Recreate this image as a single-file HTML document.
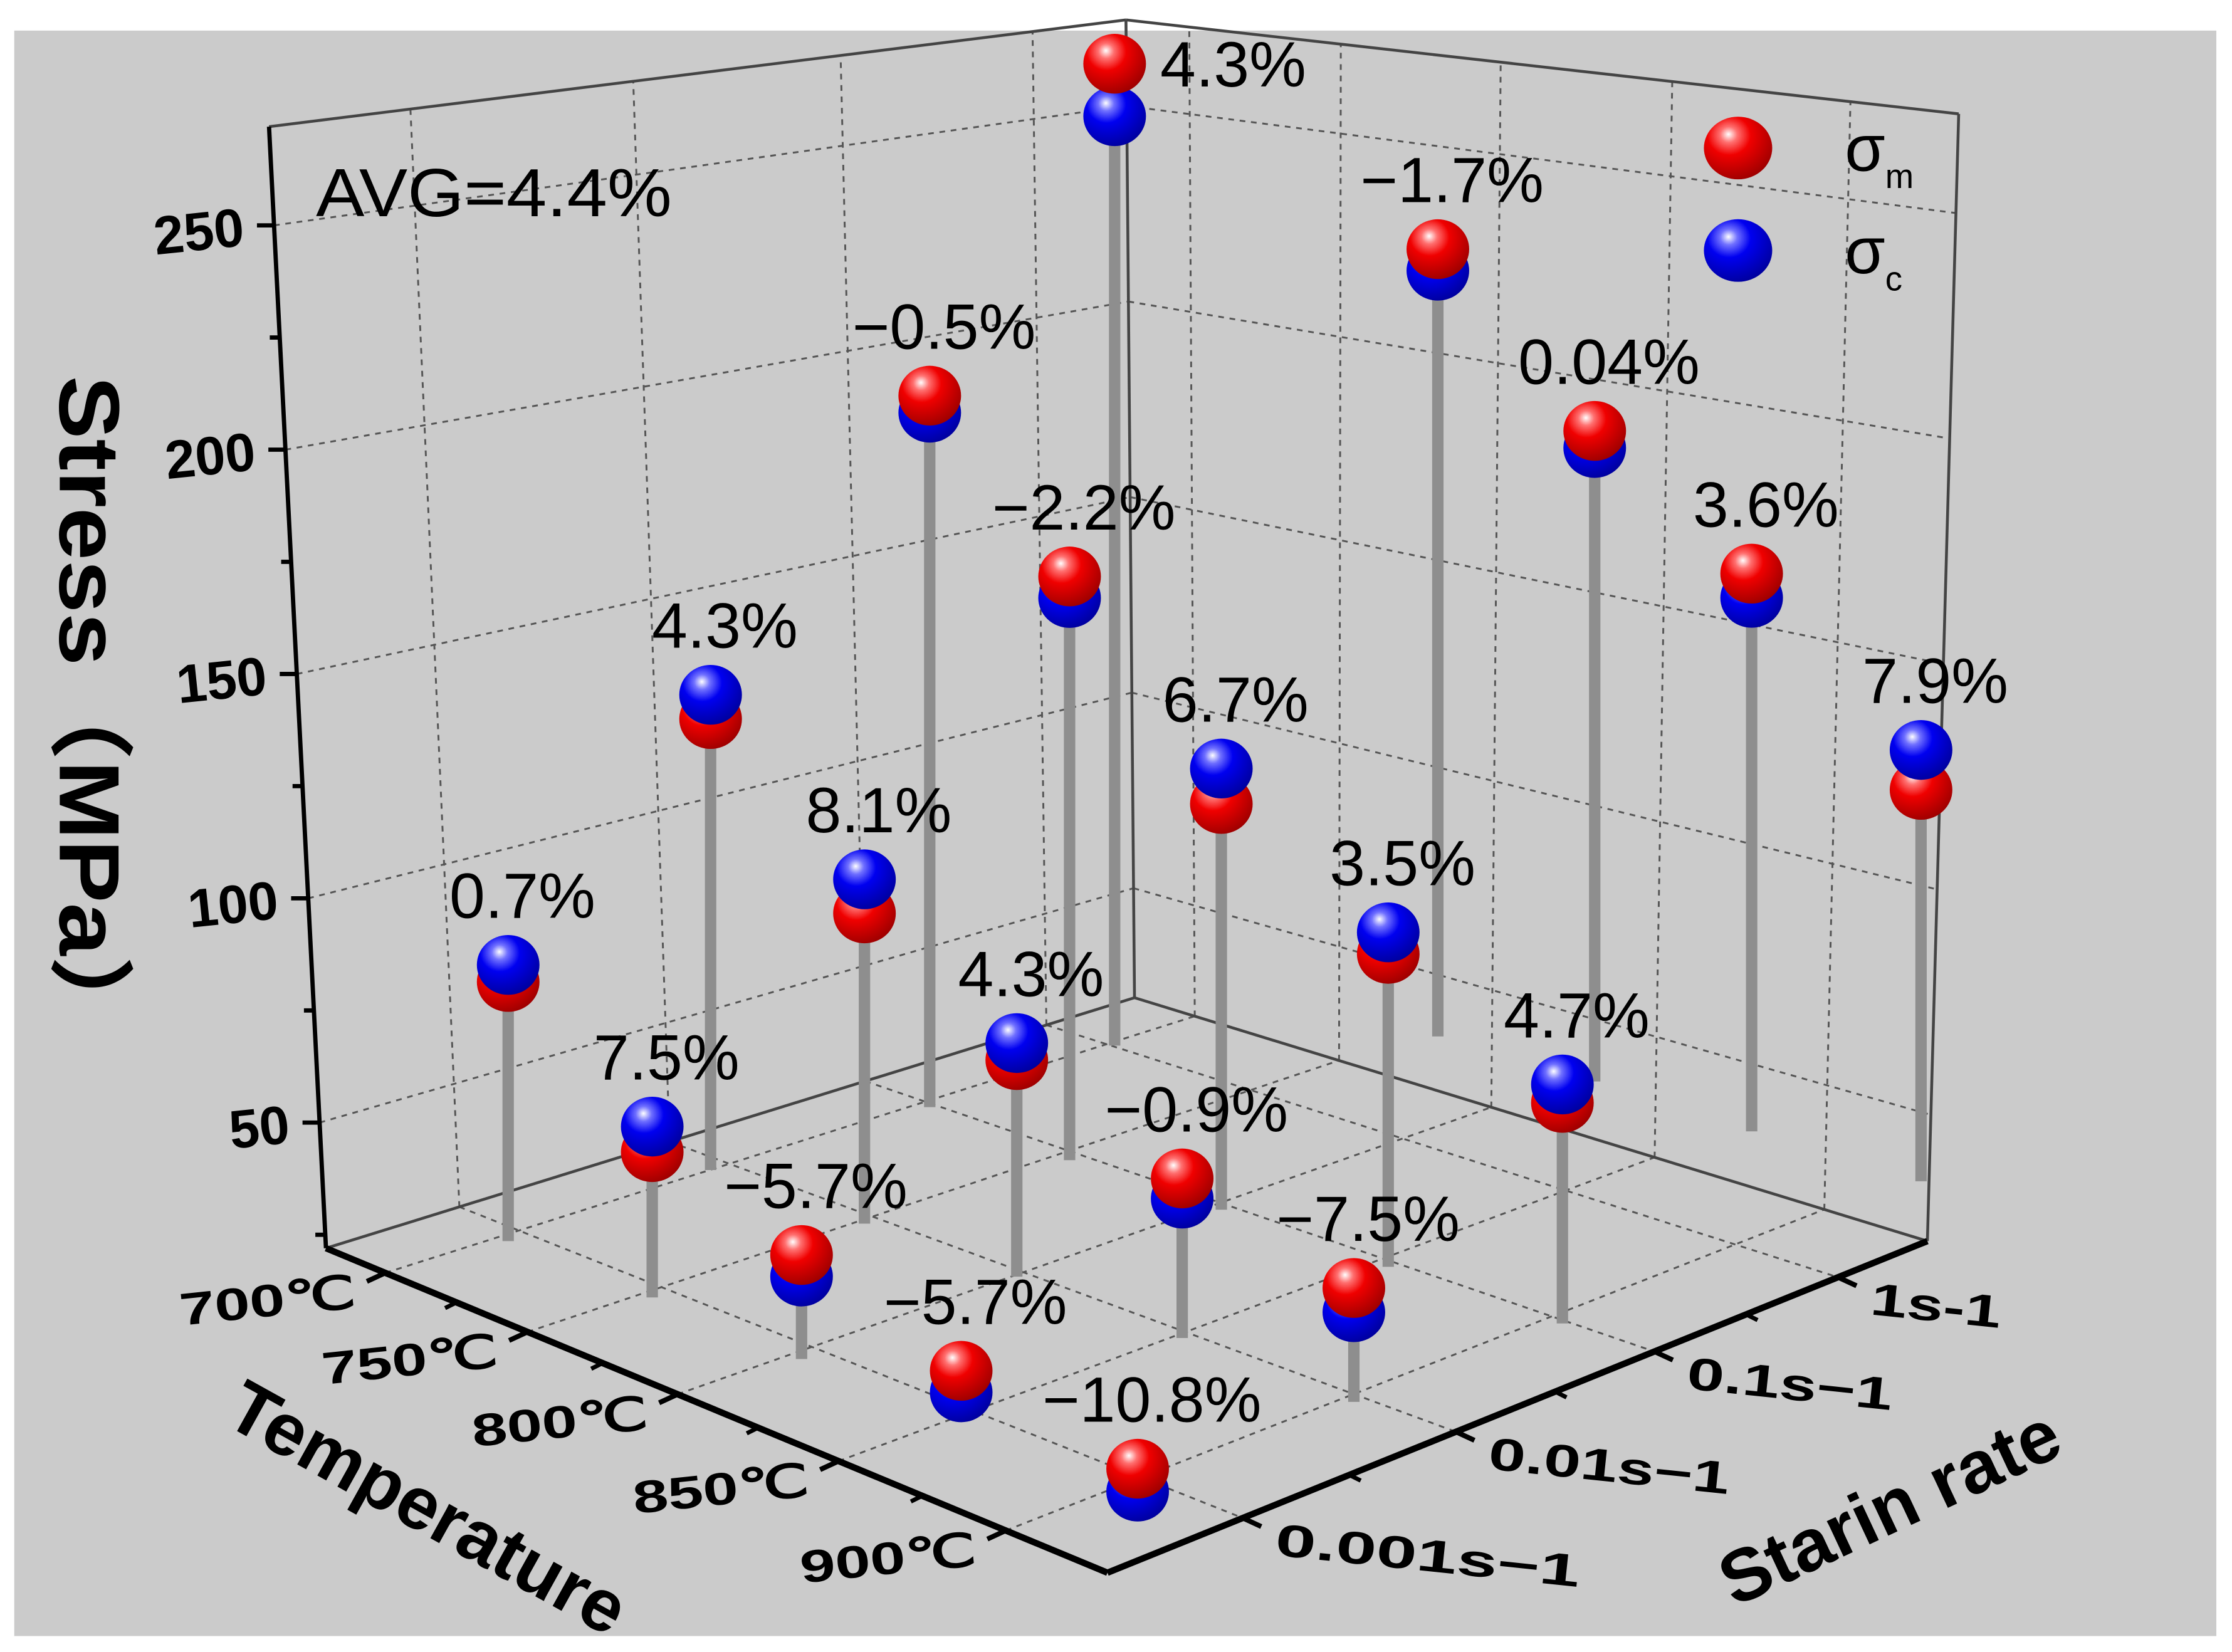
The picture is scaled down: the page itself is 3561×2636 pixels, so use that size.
<!DOCTYPE html>
<html><head><meta charset="utf-8"><style>
html,body{margin:0;padding:0;background:#fff;}
svg{display:block;}
text{font-family:"Liberation Sans",Arial,sans-serif;}
</style></head><body>
<svg id="chart" width="3561" height="2636" viewBox="0 0 1568 1160.7" preserveAspectRatio="none" xmlns="http://www.w3.org/2000/svg">
<defs>
<radialGradient id="gRed" cx="0.38" cy="0.32" r="0.7" fx="0.36" fy="0.28">
<stop offset="0" stop-color="#ffffff"/><stop offset="0.18" stop-color="#ff7070"/><stop offset="0.45" stop-color="#f00000"/><stop offset="1" stop-color="#a00000"/></radialGradient>
<radialGradient id="gBlue" cx="0.38" cy="0.32" r="0.7" fx="0.36" fy="0.28">
<stop offset="0" stop-color="#ffffff"/><stop offset="0.18" stop-color="#7070ff"/><stop offset="0.45" stop-color="#0000f0"/><stop offset="1" stop-color="#0000a0"/></radialGradient>
</defs>
<rect x="10" y="21.5" width="1547" height="1128" fill="#cbcbcb"/>
<g id="grid"></g>
<g id="axes"></g>
<g id="marks"></g>
<g id="labels"></g>
<text x="222" y="152" font-size="48" textLength="250" lengthAdjust="spacingAndGlyphs">AVG=4.4%</text>
<g>
<ellipse cx="1221" cy="104" rx="24" ry="22" fill="url(#gRed)"/>
<text x="1296" y="120" font-size="46">σ<tspan font-size="24" dy="12">m</tspan></text>
<ellipse cx="1221" cy="176" rx="24" ry="22" fill="url(#gBlue)"/>
<text x="1296" y="192" font-size="46">σ<tspan font-size="24" dy="12">c</tspan></text>
</g>
<text transform="translate(42,501) rotate(90)" text-anchor="middle" font-size="60" font-weight="bold" textLength="474" lengthAdjust="spacingAndGlyphs" style="font-family:'Liberation Sans','Noto Sans CJK SC',sans-serif">Stress（MPa）</text>
<text transform="translate(292,1075) rotate(29)" text-anchor="middle" font-size="52" font-weight="bold">Temperature</text>
<text transform="translate(1335,1075) rotate(-25)" text-anchor="middle" font-size="52" font-weight="bold">Starin rate</text>
</svg>
<script>
// ---- data ----
const tempTicks = ['700℃','750℃','800℃','850℃','900℃'];
const rateTicks = ['0.001s−1','0.01s−1','0.1s−1','1s-1'];
const zTicks = [50,100,150,200,250];
// per-point grid coordinates (temperature index, strain-rate index)
const tempCoord = [0,0.92,1.9,2.88,4.02, 0.08,1.01,1.93,2.96,4.03, 0.28,1.16,2.05,3.05,4.07, 0.38,1.35,2.22,3.13,4.08];
const rateCoord = [0,0,-0.02,0.01,0, 0.92,0.96,1.0,1.02,1.04, 1.83,1.84,1.9,1.95,2.02, 2.65,3.48,3.58,3.65,3.75];
const sigmaM = [79.8,54.4,45.2,32.2,26.1, 122.6,91.2,70.3,57.6,47.4, 180.7,152.2,112.5,91.8,71.2, 241,197.6,167.1,146.4,109.3];
const sigmaC = [83.6,60.1,40.4,27.4,21.0, 128.0,98.8,74.1,53.1,42.0, 176.9,147.4,120.4,96.6,75.3, 229.3,192.8,163.3,141.0,118.2];
const errLabels = ['0.7%','7.5%','−5.7%','−5.7%','−10.8%','4.3%','8.1%','4.3%','−0.9%','−7.5%','−0.5%','−2.2%','6.7%','3.5%','4.7%','4.3%','−1.7%','0.04%','3.6%','7.9%'];

// ---- box geometry ----
const NS='http://www.w3.org/2000/svg';
const ZMIN=22, ZMAX=272;
const cL=[229,877], cF=[778,1105], cB=[797,701], cR=[1354,872];
const tL=[189,89], tF=[763,267], tB=[791,14], tR=[1376,80];
function bil(a,b,c,d,u,v){
  return [0,1].map(i=>(1-u)*(1-v)*a[i]+u*(1-v)*b[i]+(1-u)*v*c[i]+u*v*d[i]);
}
function box(u,v,z){
  const f=bil(cL,cF,cB,cR,u,v), t=bil(tL,tF,tB,tR,u,v);
  const w=(z-ZMIN)/(ZMAX-ZMIN);
  return [f[0]+(t[0]-f[0])*w, f[1]+(t[1]-f[1])*w];
}
const tempFrac=[0.076,0.258,0.45,0.656,0.87];
const rateFrac=[0.165,0.425,0.667,0.891];
const O=[357,872], A=[110,43], Bv=[145,-58], KZ=3.15;
function floorXY(t,s){return [O[0]+t*A[0]+s*Bv[0], O[1]+t*A[1]+s*Bv[1]];}
function zY(floorY,z){return floorY-(z-ZMIN)*KZ;}

function mk(tag,attrs,parent){const e=document.createElementNS(NS,tag);for(const k in attrs)e.setAttribute(k,attrs[k]);parent.appendChild(e);return e;}
function line(p,q,st,w,dash,parent,name){
  const e=mk('line',{x1:p[0],y1:p[1],x2:q[0],y2:q[1],stroke:st,'stroke-width':w},parent);
  if(dash)e.setAttribute('stroke-dasharray',dash);
  
  
  return e;
}
const grid=document.getElementById('grid'), axes=document.getElementById('axes');
const dash='4 4', gc='#555';
zTicks.forEach(z=>{
  line(box(0,0,z),box(0,1,z),gc,1.3,dash,grid,'grid-left-wall-z');
  line(box(0,1,z),box(1,1,z),gc,1.3,dash,grid,'grid-right-wall-z');
});
rateFrac.forEach(v=>{
  line(box(0,v,ZMIN),box(0,v,ZMAX),gc,1.3,dash,grid,'grid-left-wall-rate');
  line(box(0,v,ZMIN),box(1,v,ZMIN),gc,1.3,dash,grid,'grid-floor-rate');
});
tempFrac.forEach(u=>{
  line(box(u,1,ZMIN),box(u,1,ZMAX),gc,1.3,dash,grid,'grid-right-wall-temp');
  line(box(u,0,ZMIN),box(u,1,ZMIN),gc,1.3,dash,grid,'grid-floor-temp');
});
line(box(0,0,ZMAX),box(0,1,ZMAX),'#444',2,null,axes,'box-top-left-edge');
line(box(0,1,ZMAX),box(1,1,ZMAX),'#444',2,null,axes,'box-top-right-edge');
line(box(0,1,ZMIN),box(0,1,ZMAX),'#444',2,null,axes,'box-back-edge');
line(box(1,1,ZMIN),box(1,1,ZMAX),'#444',2,null,axes,'box-right-edge');
line(box(0,0,ZMIN),box(0,1,ZMIN),'#444',2,null,axes,'box-floor-left-edge');
line(box(0,1,ZMIN),box(1,1,ZMIN),'#444',2,null,axes,'box-floor-right-edge');
line(box(0,0,ZMIN),box(0,0,ZMAX),'#000',3,null,axes,'z-axis-line');
line(box(0,0,ZMIN),box(1,0,ZMIN),'#000',4.5,null,axes,'temperature-axis-line');
line(box(1,0,ZMIN),box(1,1,ZMIN),'#000',4.5,null,axes,'strain-rate-axis-line');
zTicks.forEach(z=>{
  const p=box(0,0,z);
  line(p,[p[0]-12,p[1]],'#000',3,null,axes,'z-tick');
  const m=box(0,0,z-25); if(z-25>ZMIN) line(m,[m[0]-7,m[1]],'#000',3,null,axes,'z-minor-tick');
  const t=mk('text',{x:0,y:0,'font-size':38,'font-weight':'bold','text-anchor':'end',transform:`translate(${p[0]-20},${p[1]+14}) rotate(-6)`},axes);
  t.textContent=z;
  
  
});
tempTicks.forEach((lab,i)=>{
  const p=box(tempFrac[i],0,ZMIN);
  line(p,[p[0]-13,p[1]+6],'#000',3.5,null,axes,'temperature-tick');
  if(i<tempTicks.length-1){const m=box((tempFrac[i]+tempFrac[i+1])/2,0,ZMIN);line(m,[m[0]-8,m[1]+4],'#000',3,null,axes,'temperature-minor-tick');}
  const t=mk('text',{x:0,y:0,'font-size':32,'font-weight':'bold','text-anchor':'end',textLength:124,lengthAdjust:'spacingAndGlyphs',transform:`translate(${p[0]-20},${p[1]+24}) rotate(-6)`},axes);
  t.textContent=lab;
  
  
});
const rateLen=[215,170,145,92];
rateTicks.forEach((lab,i)=>{
  const p=box(1,rateFrac[i],ZMIN);
  line(p,[p[0]+13,p[1]+6],'#000',3.5,null,axes,'strain-rate-tick');
  if(i<rateTicks.length-1){const m=box(1,(rateFrac[i]+rateFrac[i+1])/2,ZMIN);line(m,[m[0]+8,m[1]+4],'#000',3,null,axes,'strain-rate-minor-tick');}
  const t=mk('text',{x:0,y:0,'font-size':32,'font-weight':'bold',textLength:rateLen[i],lengthAdjust:'spacingAndGlyphs',transform:`translate(${p[0]+22},${p[1]+26}) rotate(6)`},axes);
  t.textContent=lab;
  
  
});
const marks=document.getElementById('marks'), labs=document.getElementById('labels');
const order=sigmaM.map((_,i)=>i).sort((a,b)=>floorXY(tempCoord[a],rateCoord[a])[1]-floorXY(tempCoord[b],rateCoord[b])[1]);
const R=22;
order.forEach(i=>{
  const f=floorXY(tempCoord[i],rateCoord[i]);
  const ym=zY(f[1],sigmaM[i]), yc=zY(f[1],sigmaC[i]);
  const g=mk('g',{},marks);
  
  
  const low=Math.max(ym,yc);
  const stem=mk('line',{x1:f[0],y1:f[1],x2:f[0],y2:low,stroke:'#8e8e8e','stroke-width':8},g);
  
  
  const balls=[{y:ym,fill:'url(#gRed)',n:'sigma-m-ball'},{y:yc,fill:'url(#gBlue)',n:'sigma-c-ball'}].sort((a,b)=>b.y-a.y);
  balls.forEach(b=>{
    const e=mk('ellipse',{cx:f[0],cy:b.y,rx:R,ry:R-1,fill:b.fill},g);
    
    
  });
  const top=Math.min(ym,yc);
  let lx=f[0]+10, ly=top-33, anchor='middle';
  if(top<100){lx=f[0]+32; ly=top+16; anchor='start';}
  const t=mk('text',{x:lx,y:ly,'font-size':45,'text-anchor':anchor},labs);
  t.textContent=errLabels[i];
  
  
});
</script>
</body></html>
